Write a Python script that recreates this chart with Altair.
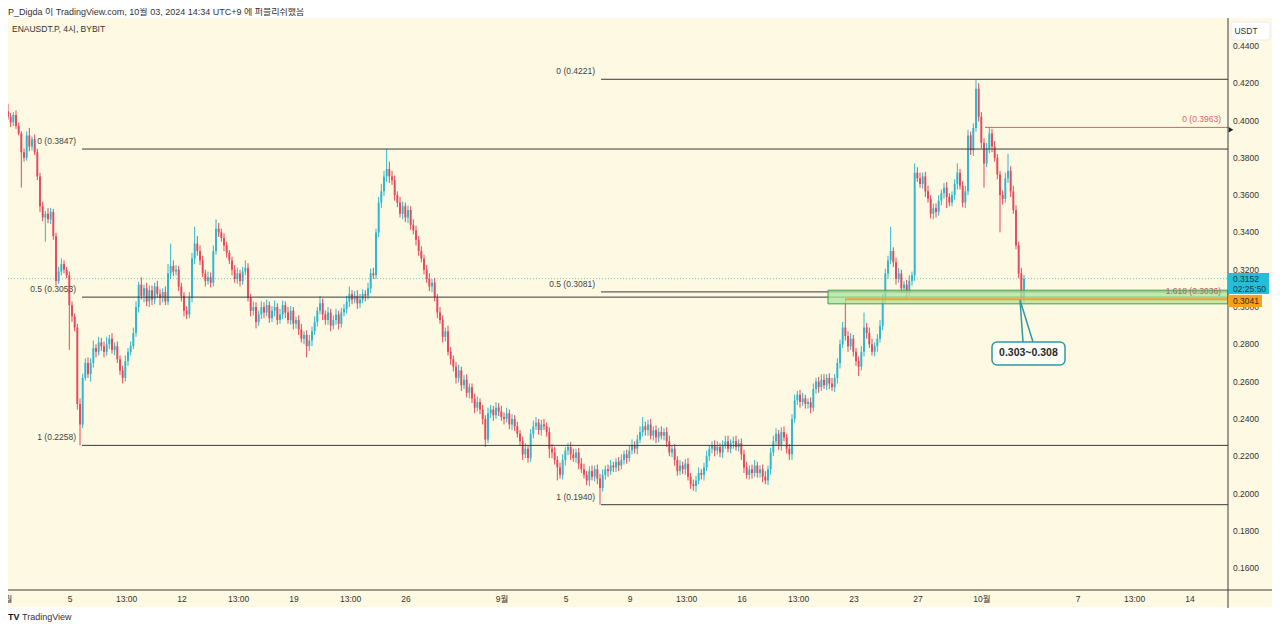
import altair as alt
import pandas as pd

FONT = "Liberation Sans, Noto Sans CJK KR, sans-serif"
CREAM = "#fdf9e2"
UP = "#2cb7cf"
DOWN = "#e5475c"
TXT = "#333333"

# ---------------- data: ENAUSDT.P 4h candles from 2024-08-01 01:00 (UTC+9) -------------
candle_hours = 4
first_open_bp = 4050          # prices in 1e-4 USDT
close_bp = [
    4020, 3990, 4030, 3970, 3930, 3830,   # Aug 1
    3800, 3920, 3860, 3900, 3830, 3700,   # Aug 2
    3540, 3480, 3500, 3470, 3510, 3380,   # Aug 3
    3140, 3190, 3230, 3200, 3170, 3010,   # Aug 4
    2950, 2890, 2480, 2370, 2620, 2700,   # Aug 5
    2640, 2700, 2780, 2760, 2810, 2790,   # Aug 6
    2760, 2800, 2830, 2770, 2790, 2720,   # Aug 7
    2660, 2620, 2710, 2760, 2790, 2860,   # Aug 8
    3000, 3120, 3060, 3100, 3030, 3090,   # Aug 9
    3040, 3110, 3070, 3050, 3080, 3030,   # Aug 10
    3180, 3220, 3190, 3200, 3110, 3060,   # Aug 11
    2980, 2960, 3050, 3260, 3340, 3300,   # Aug 12
    3250, 3180, 3140, 3160, 3130, 3300,   # Aug 13
    3420, 3400, 3370, 3330, 3290, 3250,   # Aug 14
    3200, 3150, 3180, 3140, 3190, 3210,   # Aug 15
    3050, 2980, 3000, 2920, 2960, 3000,   # Aug 16
    2970, 3010, 2940, 2980, 3000, 2930,   # Aug 17
    2960, 3010, 2970, 2930, 2980, 2910,   # Aug 18
    2930, 2880, 2830, 2850, 2790, 2820,   # Aug 19
    2870, 2920, 2980, 3020, 2960, 2930,   # Aug 20
    2970, 2900, 2930, 2960, 2910, 2970,   # Aug 21
    2990, 3030, 3070, 3040, 3060, 3020,   # Aug 22
    3040, 3070, 3060, 3100, 3180, 3170,   # Aug 23
    3400, 3560, 3620, 3700, 3740, 3700,   # Aug 24
    3680, 3600, 3560, 3500, 3540, 3480,   # Aug 25
    3520, 3440, 3410, 3360, 3300, 3260,   # Aug 26
    3200, 3150, 3110, 3130, 3050, 2970,   # Aug 27
    2930, 2840, 2870, 2760, 2720, 2680,   # Aug 28
    2620, 2660, 2580, 2610, 2540, 2570,   # Aug 29
    2510, 2460, 2490, 2450, 2400, 2290,   # Aug 30
    2430, 2450, 2420, 2460, 2440, 2410,   # Aug 31
    2400, 2430, 2370, 2400, 2360, 2320,   # Sep 1
    2280, 2210, 2240, 2190, 2320, 2360,   # Sep 2
    2380, 2340, 2370, 2360, 2330, 2240,   # Sep 3
    2220, 2180, 2140, 2100, 2180, 2230,   # Sep 4
    2250, 2210, 2190, 2220, 2160, 2130,   # Sep 5
    2100, 2070, 2120, 2090, 2130, 2080,   # Sep 6
    2030, 2100, 2130, 2120, 2150, 2140,   # Sep 7
    2170, 2150, 2180, 2210, 2190, 2230,   # Sep 8
    2260, 2240, 2290, 2330, 2360, 2340,   # Sep 9
    2370, 2310, 2340, 2300, 2330, 2310,   # Sep 10
    2330, 2280, 2220, 2240, 2180, 2120,   # Sep 11
    2150, 2130, 2160, 2090, 2050, 2040,   # Sep 12
    2070, 2110, 2100, 2140, 2200, 2240,   # Sep 13
    2260, 2230, 2250, 2220, 2260, 2280,   # Sep 14
    2240, 2270, 2280, 2250, 2270, 2210,   # Sep 15
    2140, 2100, 2130, 2110, 2150, 2110,   # Sep 16
    2130, 2090, 2070, 2130, 2220, 2280,   # Sep 17
    2320, 2260, 2330, 2300, 2240, 2210,   # Sep 18
    2400, 2500, 2530, 2490, 2510, 2480,   # Sep 19
    2490, 2460, 2560, 2600, 2570, 2610,   # Sep 20
    2580, 2620, 2590, 2570, 2620, 2700,   # Sep 21
    2800, 2890, 2845, 2790, 2830, 2760,   # Sep 22
    2710, 2680, 2760, 2890, 2860, 2800,   # Sep 23
    2760, 2790, 2830, 2900, 3050, 3180,   # Sep 24
    3250, 3300, 3240, 3150, 3180, 3100,   # Sep 25
    3120, 3080, 3140, 3170, 3720, 3690,   # Sep 26
    3660, 3700, 3620, 3580, 3500, 3530,   # Sep 27
    3510, 3570, 3610, 3640, 3590, 3560,   # Sep 28
    3600, 3660, 3720, 3650, 3560, 3620,   # Sep 29
    3920, 3840, 3960, 4170, 4020, 3880,   # Sep 30
    3770, 3850, 3930, 3860, 3800, 3710,   # Oct 1
    3600, 3580, 3690, 3730, 3620, 3520,   # Oct 2
    3330, 3180, 3045, 3152,               # Oct 3
]
upper_wick_bp = [
    40, 20, 15, 25, 18, 12,   20, 22, 40, 15, 25, 18,   20, 25, 15, 30, 22, 15,
    18, 25, 30, 20, 15, 20,   20, 15, 20, 30, 22, 25,   30, 25, 40, 20, 30, 25,
    25, 40, 20, 30, 20, 25,   20, 25, 30, 20, 25, 30,   30, 15, 40, 20, 30, 25,
    25, 20, 30, 25, 20, 30,   50, 120, 30, 25, 20, 20,  20, 25, 30, 30, 90, 40,
    30, 25, 20, 30, 25, 30,   50, 30, 20, 25, 20, 15,   20, 25, 30, 20, 25, 40,
    25, 20, 30, 25, 20, 30,   25, 30, 20, 25, 35, 20,   30, 25, 20, 30, 25, 20,
    20, 25, 30, 20, 25, 30,   25, 30, 20, 40, 25, 20,   30, 20, 25, 30, 20, 25,
    25, 30, 40, 20, 25, 30,   30, 25, 20, 30, 25, 30,   20, 30, 40, 30, 107, 40,
    30, 25, 20, 30, 25, 20,   25, 20, 30, 25, 20, 25,   20, 25, 30, 20, 25, 20,
    30, 25, 20, 30, 25, 20,   25, 30, 20, 25, 30, 20,   20, 25, 30, 20, 25, 20,
    30, 25, 20, 30, 25, 30,   25, 30, 20, 25, 20, 25,   20, 25, 30, 20, 25, 30,
    30, 20, 25, 30, 20, 25,   25, 30, 20, 25, 30, 20,   20, 25, 30, 20, 25, 30,
    30, 20, 25, 30, 20, 25,   25, 30, 20, 25, 30, 20,   20, 25, 30, 20, 25, 30,
    30, 20, 25, 30, 50, 25,   25, 30, 20, 25, 20, 30,   20, 25, 30, 20, 25, 20,
    30, 20, 25, 30, 20, 25,   25, 30, 20, 25, 30, 20,   20, 25, 30, 20, 25, 30,
    30, 20, 25, 30, 20, 25,   25, 30, 20, 25, 30, 20,   20, 25, 30, 20, 25, 30,
    30, 20, 25, 30, 20, 25,   25, 30, 20, 25, 30, 20,   20, 25, 30, 20, 25, 30,
    30, 20, 25, 30, 20, 25,   25, 30, 151, 25, 30, 20,  20, 25, 30, 80, 25, 30,
    30, 20, 25, 30, 20, 25,   25, 130, 20, 25, 30, 20,  20, 25, 30, 20, 50, 30,
    30, 20, 25, 30, 20, 25,   25, 30, 20, 25, 30, 20,   20, 25, 50, 20, 25, 30,
    30, 20, 25, 51, 30, 25,   25, 30, 33, 25, 30, 20,   20, 25, 30, 90, 25, 30,
    25, 20, 30, 20,
]
lower_wick_bp = [
    15, 25, 20, 15, 10, 190,  20, 15, 25, 20, 15, 20,   30, 20, 130, 20, 25, 20,
    25, 15, 20, 20, 15, 240,  30, 20, 30, 112, 20, 15,  20, 40, 25, 30, 20, 25,
    30, 20, 25, 20, 30, 20,   25, 30, 20, 25, 20, 15,   20, 30, 20, 35, 25, 30,
    30, 25, 20, 40, 25, 20,   20, 30, 25, 20, 25, 30,   30, 25, 20, 25, 30, 25,
    25, 20, 30, 20, 25, 20,   20, 25, 20, 30, 25, 20,   30, 20, 25, 30, 20, 20,
    20, 30, 25, 35, 20, 25,   30, 20, 25, 20, 30, 25,   20, 25, 30, 20, 25, 30,
    25, 30, 20, 30, 60, 25,   30, 20, 25, 20, 30, 25,   25, 30, 20, 25, 30, 20,
    20, 25, 30, 25, 20, 30,   25, 20, 30, 20, 25, 20,   20, 25, 30, 25, 30, 35,
    25, 30, 25, 20, 30, 25,   30, 25, 20, 30, 25, 20,   25, 20, 25, 30, 20, 30,
    20, 30, 25, 20, 30, 25,   30, 25, 30, 20, 25, 30,   25, 30, 20, 25, 30, 40,
    20, 25, 30, 20, 25, 20,   30, 20, 25, 30, 25, 20,   25, 30, 20, 25, 20, 25,
    20, 25, 30, 20, 25, 50,   30, 25, 70, 20, 25, 30,   25, 30, 20, 25, 30, 20,
    20, 25, 30, 20, 25, 30,   90, 20, 25, 30, 20, 25,   25, 30, 20, 25, 30, 20,
    20, 25, 30, 20, 25, 30,   30, 20, 25, 30, 25, 20,   25, 30, 20, 25, 30, 25,
    20, 25, 30, 20, 25, 25,   30, 20, 25, 30, 20, 25,   25, 30, 20, 25, 30, 20,
    20, 25, 30, 20, 25, 30,   30, 20, 25, 30, 20, 25,   25, 30, 20, 25, 30, 20,
    20, 25, 30, 20, 25, 30,   30, 20, 25, 30, 20, 25,   25, 30, 20, 25, 30, 20,
    20, 25, 30, 20, 25, 30,   30, 20, 25, 30, 20, 25,   25, 50, 20, 25, 30, 20,
    20, 25, 30, 20, 25, 30,   30, 20, 25, 30, 20, 25,   25, 30, 20, 25, 30, 20,
    20, 25, 30, 20, 25, 30,   30, 20, 25, 30, 60, 20,   20, 25, 30, 20, 25, 30,
    20, 25, 30, 20, 25, 30,   130, 20, 25, 30, 20, 25,  200, 30, 20, 25, 30, 20,
    20, 25, 15, 20,
]

last_price = 0.3152
last_price_timer = "02:25:50"
hline_price = 0.3041

# Fibonacci retracements (start day = days since Aug 1 00:00)
fibA_start, fibA_levels = 4.75, [0.3847, 0.3053, 0.2258]
fibA_labels = ["0 (0.3847)", "0.5 (0.3053)", "1 (0.2258)"]
fibB_start, fibB_levels = 37.19, [0.4221, 0.3081, 0.1940]
fibB_labels = ["0 (0.4221)", "0.5 (0.3081)", "1 (0.1940)"]
fibC_start, fibC_level, fibC_label = 61.19, 0.3963, "0 (0.3963)"
fibC_ext_level, fibC_ext_label = 0.3036, "1.618 (0.3036)"
zone_start, zone_low, zone_high = 51.375, 0.3017, 0.3090
hline_start = 52.44
callout_text = "0.303~0.308"

x_tick_days = [0, 4, 7.5417, 11, 14.5417, 18, 21.5417, 25, 31, 35, 39, 42.5417,
               46, 49.5417, 53, 57, 61, 67, 70.5417, 74]
x_tick_labels = ["8월", "5", "13:00", "12", "13:00", "19", "13:00", "26", "9월", "5",
                 "9", "13:00", "16", "13:00", "23", "27", "10월", "7", "13:00", "14"]
y_tick_values = [0.16, 0.18, 0.20, 0.22, 0.24, 0.26, 0.28, 0.30, 0.32, 0.34, 0.36,
                 0.38, 0.40, 0.42, 0.44]

header_text = "P_Digda 이 TradingView.com, 10월 03, 2024 14:34 UTC+9 에 퍼블리쉬했음"
symbol_text = "ENAUSDT.P, 4시, BYBIT"

# ---------------- build candle table ----------------
rows = []
prev = first_open_bp
for i, c in enumerate(close_bp):
    o = prev
    h = max(o, c) + upper_wick_bp[i]
    l = min(o, c) - lower_wick_bp[i]
    rows.append(dict(t=(1 + candle_hours * i + candle_hours / 2) / 24.0,
                     o=o / 1e4, c=c / 1e4, h=h / 1e4, l=l / 1e4,
                     dir="up" if c >= o else "down"))
    prev = c
candles = pd.DataFrame(rows)

X_END = 76.375
XS = alt.Scale(domain=[0.125, X_END], nice=False, zero=False, padding=0)
YS = alt.Scale(domain=[0.14826, 0.45496], nice=False, zero=False, padding=0)


def X(f):
    return alt.X(f, type="quantitative", scale=XS, axis=None)


def Y(f):
    return alt.Y(f, type="quantitative", scale=YS, axis=None)


one = pd.DataFrame({"k": [0]})
color = alt.Color("dir:N", scale=alt.Scale(domain=["up", "down"], range=[UP, DOWN]), legend=None)

bg = alt.Chart(one).mark_rect(fill=CREAM).encode(
    x=alt.value(0), x2=alt.value(1264), y=alt.value(0), y2=alt.value(589))

last_line = alt.Chart(pd.DataFrame({"p": [last_price]})).mark_rule(
    color="#6fcbd9", strokeDash=[1, 2], strokeWidth=1).encode(
    x=alt.value(0), x2=alt.value(1220), y=Y("p"))

wicks = alt.Chart(candles).mark_rule(strokeWidth=1).encode(
    x=X("t"), y=Y("l"), y2=alt.Y2("h"), color=color)
bodies = alt.Chart(candles).mark_bar(width=1.9).encode(
    x=X("t"), y=Y("o"), y2=alt.Y2("c"), color=color)

fib_df = pd.DataFrame({
    "x0": [fibA_start] * 3 + [fibB_start] * 3,
    "x1": [X_END] * 6,
    "p": fibA_levels + fibB_levels,
    "label": fibA_labels + fibB_labels,
})
fib_lines = alt.Chart(fib_df).mark_rule(color="#3a3a3a", strokeWidth=1).encode(
    x=X("x0"), x2=alt.X2("x1"), y=Y("p"))
fib_text = alt.Chart(fib_df).mark_text(
    align="right", baseline="middle", dx=-6, dy=-8, font=FONT, fontSize=8.5, color="#444").encode(
    x=X("x0"), y=Y("p"), text="label:N")

red_df = pd.DataFrame({"x0": [fibC_start], "x1": [X_END], "p": [fibC_level], "label": [fibC_label]})
red_line = alt.Chart(red_df).mark_rule(color="#e25c68", strokeWidth=1).encode(
    x=X("x0"), x2=alt.X2("x1"), y=Y("p"))
red_text = alt.Chart(red_df).mark_text(
    align="right", baseline="middle", dx=-7, dy=-8, font=FONT, fontSize=8.5, color="#e0606c").encode(
    x=X("x1"), y=Y("p"), text="label:N")

zone = alt.Chart(pd.DataFrame({"x0": [zone_start], "x1": [X_END], "p0": [zone_low], "p1": [zone_high]})).mark_rect(
    fill="#a9e69c", fillOpacity=0.75, stroke="#3f9f4a", strokeWidth=1).encode(
    x=X("x0"), x2=alt.X2("x1"), y=Y("p0"), y2=alt.Y2("p1"))

ext_text = alt.Chart(pd.DataFrame({"x1": [X_END], "p": [fibC_ext_level], "label": [fibC_ext_label]})).mark_text(
    align="right", baseline="middle", dx=-7, dy=-9, font=FONT, fontSize=8.5, color="#b0665e").encode(
    x=X("x1"), y=Y("p"), text="label:N")

hline = alt.Chart(pd.DataFrame({"x0": [hline_start], "x1": [X_END], "p": [hline_price]})).mark_rule(
    color="#eea22c", strokeWidth=2).encode(x=X("x0"), x2=alt.X2("x1"), y=Y("p"))

marker = alt.Chart(pd.DataFrame({"p": [0.3950]})).mark_point(
    shape="triangle-right", filled=True, color="#222", size=30, opacity=1).encode(
    x=alt.value(1223), y=Y("p"))

# callout
tail = alt.Chart(pd.DataFrame({"x": [63.5625, 63.375, 64.1875], "p": [0.2812, 0.30375, 0.2812],
                               "o": [0, 1, 2]})).mark_line(color="#2e9aa5", strokeWidth=1.5).encode(
    x=X("x"), y=Y("p"), order="o:Q")
cbox = alt.Chart(pd.DataFrame({"x0": [61.625], "x1": [66.19], "p0": [0.2689], "p1": [0.2812]})).mark_rect(
    fill="#fffef4", stroke="#2e9aa5", strokeWidth=1.5, cornerRadius=5).encode(
    x=X("x0"), x2=alt.X2("x1"), y=Y("p0"), y2=alt.Y2("p1"))
ctext = alt.Chart(pd.DataFrame({"x": [63.9], "p": [0.2751], "label": [callout_text]})).mark_text(
    font=FONT, fontSize=10.5, fontWeight="bold", color="#1f2a30", baseline="middle").encode(
    x=X("x"), y=Y("p"), text="label:N")

# axes (drawn as marks)
axis_v = alt.Chart(one).mark_rule(color="#3c3c3c", strokeWidth=1).encode(
    x=alt.value(1220), y=alt.value(0), y2=alt.value(590))
axis_h = alt.Chart(one).mark_rule(color="#3c3c3c", strokeWidth=1).encode(
    x=alt.value(0), x2=alt.value(1264), y=alt.value(572))
ylab = alt.Chart(pd.DataFrame({"v": y_tick_values, "s": [f"{v:.4f}" for v in y_tick_values]})).mark_text(
    align="left", baseline="middle", font=FONT, fontSize=8.5, color=TXT).encode(
    x=alt.value(1225), y=Y("v"), text="s:N")
xlab = alt.Chart(pd.DataFrame({"d": x_tick_days, "s": x_tick_labels})).mark_text(
    align="center", baseline="middle", font=FONT, fontSize=8.5, color=TXT).encode(
    x=X("d"), y=alt.value(581), text="s:N")

# price boxes on the axis
cyan_box = alt.Chart(one).mark_rect(fill="#26bdd8").encode(
    x=alt.value(1220), x2=alt.value(1261), y=alt.value(255), y2=alt.value(276))
cyan_txt = alt.Chart(pd.DataFrame({"y": [261, 271], "s": [f"{last_price:.4f}", last_price_timer]})).mark_text(
    align="left", baseline="middle", font=FONT, fontSize=8.5, color="#0f3d4d").encode(
    x=alt.value(1225), y=alt.Y("y:Q", scale=None), text="s:N")
org_box = alt.Chart(one).mark_rect(fill="#f4a020").encode(
    x=alt.value(1220), x2=alt.value(1254), y=alt.value(277), y2=alt.value(289))
org_txt = alt.Chart(pd.DataFrame({"s": [f"{hline_price:.4f}"]})).mark_text(
    align="left", baseline="middle", font=FONT, fontSize=8.5, color="#3a2a10").encode(
    x=alt.value(1225), y=alt.value(283), text="s:N")
usdt_box = alt.Chart(one).mark_rect(fill="white", stroke="#ececec", cornerRadius=3).encode(
    x=alt.value(1223), x2=alt.value(1262), y=alt.value(4), y2=alt.value(22))
usdt_txt = alt.Chart(pd.DataFrame({"s": ["USDT"]})).mark_text(
    align="center", baseline="middle", font=FONT, fontSize=8.5, color=TXT).encode(
    x=alt.value(1238), y=alt.value(13), text="s:N")

header = alt.Chart(pd.DataFrame({"s": [header_text]})).mark_text(
    align="left", baseline="top", font=FONT, fontSize=9, color=TXT).encode(
    x=alt.value(0), y=alt.value(-10), text="s:N")
symbol = alt.Chart(pd.DataFrame({"s": [symbol_text]})).mark_text(
    align="left", baseline="middle", font=FONT, fontSize=8.5, color=TXT).encode(
    x=alt.value(4), y=alt.value(11), text="s:N")
logo = alt.Chart(pd.DataFrame({"s": ["TV"]})).mark_text(
    align="left", baseline="middle", font=FONT, fontSize=9, fontWeight="bold", color="#131722").encode(
    x=alt.value(0), y=alt.value(599), text="s:N")
footer = alt.Chart(pd.DataFrame({"s": ["TradingView"]})).mark_text(
    align="left", baseline="middle", font=FONT, fontSize=9, color=TXT).encode(
    x=alt.value(14), y=alt.value(599), text="s:N")

chart = alt.layer(
    bg, last_line, wicks, bodies, fib_lines, fib_text, red_line, red_text,
    zone, hline, ext_text, tail, cbox, ctext,
    axis_v, axis_h, ylab, xlab, cyan_box, cyan_txt, org_box, org_txt,
    usdt_box, usdt_txt, marker, header, symbol, logo, footer,
).properties(
    width=1220, height=572,
    padding={"left": 0, "top": 10, "right": 44, "bottom": 32},
    autosize=alt.AutoSizeParams(type="none"),
    background="white",
).configure_view(strokeWidth=0)

chart.save("out.html", embed_options={"renderer": "svg", "actions": False})
